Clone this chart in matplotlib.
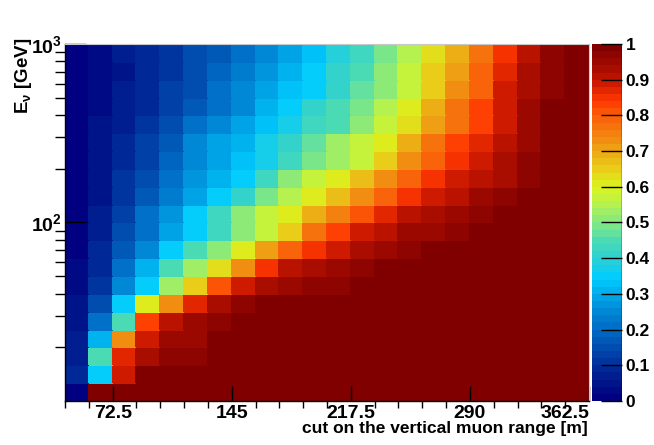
import matplotlib
matplotlib.use("Agg")
import matplotlib.pyplot as plt
import numpy as np
from matplotlib.colors import LinearSegmentedColormap, ListedColormap, Normalize
from matplotlib.ticker import LogLocator, NullFormatter, FixedLocator

plt.rcParams['font.family'] = ['Liberation Sans', 'DejaVu Sans']
plt.rcParams['font.weight'] = 'bold'
plt.rcParams['mathtext.fontset'] = 'custom'
plt.rcParams['mathtext.rm'] = 'Liberation Sans:bold'
plt.rcParams['mathtext.it'] = 'Liberation Sans:bold'
plt.rcParams['mathtext.bf'] = 'Liberation Sans:bold'
plt.rcParams['mathtext.default'] = 'rm'

# bin edges of the histogram
x_edges = [43.5 + 14.5 * k for k in range(23)]          # cut on range [m]
y_edges = [10 ** (1 + 0.1 * k) for k in range(21)]      # E_nu [GeV]

# fraction per cell, rows listed from the top (1000 GeV) down to 10 GeV
rows_top_down = [
    [0.00, 0.03, 0.06, 0.09, 0.11, 0.14, 0.17, 0.21, 0.25, 0.29, 0.33, 0.38, 0.43, 0.48, 0.55, 0.62, 0.69, 0.77, 0.85, 0.91, 0.96, 0.99],
    [0.00, 0.03, 0.05, 0.08, 0.11, 0.15, 0.19, 0.23, 0.27, 0.31, 0.34, 0.40, 0.45, 0.50, 0.57, 0.64, 0.71, 0.79, 0.87, 0.93, 0.97, 0.99],
    [0.00, 0.03, 0.06, 0.09, 0.12, 0.15, 0.20, 0.24, 0.28, 0.32, 0.35, 0.41, 0.46, 0.51, 0.58, 0.64, 0.72, 0.79, 0.88, 0.93, 0.97, 0.99],
    [0.00, 0.03, 0.06, 0.09, 0.12, 0.16, 0.20, 0.25, 0.30, 0.34, 0.40, 0.44, 0.49, 0.54, 0.61, 0.69, 0.76, 0.83, 0.89, 0.94, 0.98, 0.99],
    [0.00, 0.04, 0.07, 0.11, 0.15, 0.20, 0.24, 0.28, 0.32, 0.37, 0.42, 0.45, 0.50, 0.57, 0.63, 0.70, 0.77, 0.83, 0.89, 0.95, 0.98, 0.99],
    [0.00, 0.04, 0.08, 0.12, 0.16, 0.24, 0.28, 0.31, 0.36, 0.41, 0.47, 0.52, 0.56, 0.61, 0.68, 0.77, 0.83, 0.87, 0.91, 0.95, 0.98, 0.99],
    [0.00, 0.04, 0.09, 0.13, 0.18, 0.24, 0.28, 0.32, 0.36, 0.43, 0.48, 0.53, 0.58, 0.64, 0.72, 0.78, 0.84, 0.88, 0.92, 0.96, 0.98, 0.99],
    [0.00, 0.05, 0.10, 0.15, 0.20, 0.27, 0.31, 0.35, 0.43, 0.50, 0.56, 0.60, 0.66, 0.72, 0.78, 0.85, 0.88, 0.90, 0.93, 0.97, 0.98, 0.99],
    [0.00, 0.05, 0.10, 0.17, 0.23, 0.28, 0.34, 0.40, 0.48, 0.55, 0.60, 0.66, 0.72, 0.78, 0.85, 0.88, 0.91, 0.94, 0.96, 0.98, 0.99, 1.00],
    [0.00, 0.07, 0.12, 0.20, 0.27, 0.34, 0.42, 0.50, 0.56, 0.60, 0.68, 0.75, 0.81, 0.86, 0.90, 0.92, 0.95, 0.96, 0.98, 0.99, 0.99, 1.00],
    [0.00, 0.07, 0.14, 0.20, 0.28, 0.34, 0.43, 0.50, 0.58, 0.64, 0.77, 0.83, 0.88, 0.91, 0.94, 0.95, 0.97, 0.98, 0.99, 0.99, 1.00, 1.00],
    [0.00, 0.08, 0.17, 0.24, 0.34, 0.44, 0.50, 0.60, 0.70, 0.78, 0.84, 0.89, 0.92, 0.95, 0.97, 0.98, 0.98, 0.99, 1.00, 1.00, 1.00, 1.00],
    [0.02, 0.09, 0.20, 0.30, 0.44, 0.53, 0.62, 0.72, 0.84, 0.90, 0.93, 0.95, 0.97, 0.98, 0.99, 1.00, 1.00, 1.00, 1.00, 1.00, 1.00, 1.00],
    [0.03, 0.10, 0.24, 0.35, 0.53, 0.65, 0.80, 0.88, 0.93, 0.95, 0.97, 0.97, 0.98, 0.99, 1.00, 1.00, 1.00, 1.00, 1.00, 1.00, 1.00, 1.00],
    [0.04, 0.14, 0.34, 0.60, 0.73, 0.86, 0.93, 0.96, 0.98, 0.98, 0.99, 0.99, 0.99, 1.00, 1.00, 1.00, 1.00, 1.00, 1.00, 1.00, 1.00, 1.00],
    [0.05, 0.20, 0.45, 0.82, 0.90, 0.95, 0.97, 0.98, 0.99, 1.00, 1.00, 1.00, 1.00, 1.00, 1.00, 1.00, 1.00, 1.00, 1.00, 1.00, 1.00, 1.00],
    [0.06, 0.30, 0.72, 0.88, 0.94, 0.95, 0.98, 0.99, 1.00, 1.00, 1.00, 1.00, 1.00, 1.00, 1.00, 1.00, 1.00, 1.00, 1.00, 1.00, 1.00, 1.00],
    [0.07, 0.44, 0.87, 0.93, 0.96, 0.97, 0.98, 1.00, 1.00, 1.00, 1.00, 1.00, 1.00, 1.00, 1.00, 1.00, 1.00, 1.00, 1.00, 1.00, 1.00, 1.00],
    [0.09, 0.35, 0.88, 0.99, 0.99, 1.00, 1.00, 1.00, 1.00, 1.00, 1.00, 1.00, 1.00, 1.00, 1.00, 1.00, 1.00, 1.00, 1.00, 1.00, 1.00, 1.00],
    [0.00, 0.99, 0.99, 1.00, 1.00, 1.00, 1.00, 1.00, 1.00, 1.00, 1.00, 1.00, 1.00, 1.00, 1.00, 1.00, 1.00, 1.00, 1.00, 1.00, 1.00, 1.00],
]

x_tick_vals = [72.5, 145, 217.5, 290, 362.5]
x_tick_labels = ["72.5", "145", "217.5", "290", "362.5"]
cb_tick_vals = [i / 10 for i in range(11)]
cb_tick_labels = ['0', '0.1', '0.2', '0.3', '0.4', '0.5', '0.6', '0.7', '0.8', '0.9', '1']

# ROOT-like rainbow palette
stops = [
    (0.00, (0.00, 0.00, 0.50)),
    (0.05, (0.00, 0.10, 0.55)),
    (0.10, (0.00, 0.20, 0.62)),
    (0.15, (0.00, 0.32, 0.70)),
    (0.20, (0.00, 0.43, 0.78)),
    (0.25, (0.00, 0.55, 0.85)),
    (0.30, (0.00, 0.68, 0.92)),
    (0.34, (0.00, 0.80, 1.00)),
    (0.40, (0.18, 0.82, 0.82)),
    (0.45, (0.30, 0.86, 0.70)),
    (0.50, (0.52, 0.91, 0.50)),
    (0.55, (0.70, 0.95, 0.32)),
    (0.60, (0.86, 0.96, 0.12)),
    (0.65, (0.91, 0.82, 0.10)),
    (0.70, (0.93, 0.66, 0.08)),
    (0.75, (0.95, 0.52, 0.06)),
    (0.80, (0.98, 0.38, 0.04)),
    (0.85, (1.00, 0.22, 0.00)),
    (0.90, (0.80, 0.10, 0.00)),
    (0.95, (0.63, 0.04, 0.00)),
    (1.00, (0.50, 0.00, 0.00)),
]
smooth = LinearSegmentedColormap.from_list("rootpal", stops)
cmap = ListedColormap(smooth(np.linspace(0, 1, 50)))

z = np.array(rows_top_down[::-1])

fig = plt.figure(figsize=(6.54, 4.45), dpi=100)
ax = fig.add_axes([65 / 654, 44 / 445, 524 / 654, 357 / 445])
cax = fig.add_axes([591.5 / 654, 44 / 445, 30 / 654, 357 / 445])

mesh = ax.pcolormesh(x_edges, y_edges, z, cmap=cmap, norm=Normalize(0, 1),
                     edgecolors='face', linewidth=0.2)
ax.set_yscale('log')
ax.set_xlim(x_edges[0], x_edges[-1])
ax.set_ylim(y_edges[0], y_edges[-1])

ax.xaxis.set_major_locator(FixedLocator(x_tick_vals))
ax.set_xticklabels(x_tick_labels)
ax.get_xticklabels()[-1].set_ha('right')
ax.get_xticklabels()[-1].set_x(x_tick_vals[-1])
ax.xaxis.set_minor_locator(FixedLocator(x_edges))
ax.set_yticks([100, 1000])
ax.set_yticklabels([r'$10^{2}$', r'$10^{3}$'])
ax.yaxis.set_minor_locator(LogLocator(base=10, subs=np.arange(2, 10)))
ax.yaxis.set_minor_formatter(NullFormatter())

ax.tick_params(axis='both', which='major', direction='in', labelsize=14,
               top=False, right=False)
ax.tick_params(axis='x', which='major', length=11, width=1, pad=3)
ax.tick_params(axis='x', which='minor', length=5, width=1, top=False)
ax.tick_params(axis='y', which='major', length=15, width=1, pad=2)
ax.tick_params(axis='y', which='minor', length=7, width=1, right=False)
for s in ['top', 'right']:
    ax.spines[s].set_color('#c8c8c8')
    ax.spines[s].set_linewidth(0.8)
for s in ['left', 'bottom']:
    ax.spines[s].set_linewidth(1)

cb = fig.colorbar(mesh, cax=cax)
cb.set_ticks(cb_tick_vals)
cb.set_ticklabels(cb_tick_labels)
cb.outline.set_visible(False)
cax.tick_params(direction='in', length=15, width=1, labelsize=12.5, pad=3)
cax.minorticks_off()
cax.axvline(1, color='black', lw=1)

fig.text(588 / 654, 1 - 428 / 445, "cut on the vertical muon range [m]",
         ha='right', va='center', fontsize=12.5, fontweight='bold')
fig.text(24 / 654, 1 - 37 / 445, r"E$_{\nu}$ [GeV]", rotation=90,
         ha='center', va='top', fontsize=13.5, fontweight='bold')

fig.savefig("out.png", dpi=100)
